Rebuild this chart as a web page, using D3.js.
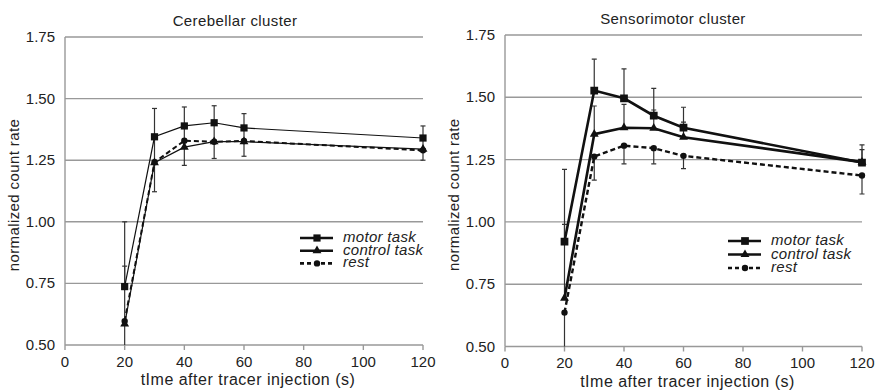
<!DOCTYPE html>
<meta charset="utf-8">
<style>
body { margin: 0; background: #fff; }
text { font-family: "Liberation Sans", Arial, sans-serif; fill: #222; }
.grid line { stroke: #999; stroke-width: 1.4px; }
.err { stroke: #333; stroke-width: 1.2px; }
</style>
<body>
<div id="chart"></div>
<script src="https://d3js.org/d3.v7.min.js"></script>
<script>
var times = [20, 30, 40, 50, 60, 120];
var yTicks = [0.5, 0.75, 1.0, 1.25, 1.5, 1.75];
var xTicks = [0, 20, 40, 60, 80, 100, 120];
var seriesNames = ["motor task", "control task", "rest"];

// cerebellar cluster
var cbMotor = [0.737, 1.345, 1.389, 1.402, 1.381, 1.340];
var cbControl = [0.585, 1.240, 1.303, 1.325, 1.325, 1.295];
var cbRest = [0.597, 1.242, 1.329, 1.325, 1.328, 1.290];
var cbMotorErr = [0.263, 0.115, 0.077, 0.069, 0.058, 0.049];   // drawn upwards
var cbControlErr = [0.235, 0.11, 0.09, 0.07, 0.06, 0.05];      // drawn upwards
var cbRestErr = [0.2, 0.12, 0.10, 0.068, 0.062, 0.04];         // drawn downwards

// sensorimotor cluster
var smMotor = [0.921, 1.527, 1.496, 1.426, 1.378, 1.238];
var smControl = [0.694, 1.352, 1.378, 1.376, 1.340, 1.240];
var smRest = [0.636, 1.262, 1.306, 1.296, 1.265, 1.186];
var smMotorErr = [0.29, 0.126, 0.118, 0.11, 0.082, 0.071];
var smControlErr = [0.296, 0.113, 0.094, 0.073, 0.06, 0.05];
var smRestErr = [0.2, 0.094, 0.073, 0.063, 0.051, 0.074];

var svg = d3.select("#chart").append("svg")
    .attr("width", 880)
    .attr("height", 391);

function drawPanel(id, opts) {
  var x = d3.scaleLinear().domain([0, 120]).range([opts.left, opts.right]);
  var y = d3.scaleLinear().domain([0.5, 1.75]).range([opts.bottom, opts.top]);
  var g = svg.append("g");

  g.append("clipPath").attr("id", id)
    .append("rect")
      .attr("x", opts.left - 10).attr("y", opts.top - 10)
      .attr("width", opts.right - opts.left + 20)
      .attr("height", opts.bottom - opts.top + 10);

  // horizontal grid
  g.append("g").attr("class", "grid")
    .selectAll("line").data(yTicks).enter().append("line")
      .attr("x1", opts.left).attr("x2", opts.right)
      .attr("y1", function(d) { return y(d); })
      .attr("y2", function(d) { return y(d); });

  // left axis line
  g.append("line")
      .attr("x1", opts.left).attr("x2", opts.left)
      .attr("y1", opts.top).attr("y2", opts.bottom)
      .style("stroke", "#999").style("stroke-width", 1.4);

  g.selectAll(".ytl").data(yTicks).enter().append("text")
      .attr("x", opts.left - 10)
      .attr("y", function(d) { return y(d) + 5; })
      .attr("text-anchor", "end")
      .style("font-size", "15px")
      .text(function(d) { return d3.format(".2f")(d); });

  // bottom ticks
  g.selectAll(".xt").data(xTicks).enter().append("line")
      .attr("x1", function(d) { return x(d); })
      .attr("x2", function(d) { return x(d); })
      .attr("y1", opts.bottom).attr("y2", opts.bottom + 5)
      .style("stroke", "#999").style("stroke-width", 1.4);

  g.selectAll(".xtl").data(xTicks).enter().append("text")
      .attr("x", function(d) { return x(d); })
      .attr("y", opts.bottom + 21.5)
      .attr("text-anchor", "middle")
      .style("font-size", "15px")
      .text(function(d) { return d; });

  g.append("text")
      .attr("x", (opts.left + opts.right) / 2 + 4)
      .attr("y", opts.bottom + 40)
      .attr("text-anchor", "middle")
      .style("font-size", "16px")
      .style("letter-spacing", "0.5px")
      .text("tIme after tracer injection (s)");

  g.append("text")
      .attr("transform", "translate(" + (opts.left - 46) + "," + ((opts.top + opts.bottom) / 2 + 4) + ") rotate(-90)")
      .attr("text-anchor", "middle")
      .style("font-size", "15px")
      .style("letter-spacing", "0.4px")
      .text("normalized count rate");

  g.append("text")
      .attr("x", opts.titleX)
      .attr("y", opts.titleY)
      .attr("text-anchor", "middle")
      .style("font-size", "15px")
      .style("letter-spacing", "0.4px")
      .text(opts.title);

  var plot = g.append("g").attr("clip-path", "url(#" + id + ")");

  var series = [
    {vals: opts.motor, err: opts.motorErr, dir: 1, shape: d3.symbolSquare, size: opts.sq, dash: null},
    {vals: opts.control, err: opts.controlErr, dir: 1, shape: d3.symbolTriangle, size: 34, dash: null},
    {vals: opts.rest, err: opts.restErr, dir: -1, shape: d3.symbolCircle, size: 32, dash: "5,3"}
  ];

  // error bars
  series.forEach(function(s) {
    var eb = plot.append("g").attr("class", "err");
    times.forEach(function(t, i) {
      var v0 = s.vals[i], v1 = s.vals[i] + s.dir * s.err[i];
      eb.append("line")
          .attr("x1", x(t)).attr("x2", x(t))
          .attr("y1", y(v0)).attr("y2", y(v1));
      eb.append("line")
          .attr("x1", x(t) - 2.5).attr("x2", x(t) + 2.5)
          .attr("y1", y(v1)).attr("y2", y(v1));
    });
  });

  var line = d3.line()
      .x(function(d, i) { return x(times[i]); })
      .y(function(d) { return y(d); });

  series.slice().reverse().forEach(function(s) {
    plot.append("path")
        .datum(s.vals)
        .attr("d", line)
        .style("fill", "none")
        .style("stroke", "#111")
        .style("stroke-width", s.dash ? opts.restWidth : opts.lineWidth)
        .style("stroke-dasharray", s.dash);
    plot.selectAll(null).data(s.vals).enter().append("path")
        .attr("d", d3.symbol().type(s.shape).size(s.size))
        .attr("transform", function(d, i) { return "translate(" + x(times[i]) + "," + y(d) + ")"; })
        .style("fill", "#111");
  });

  // legend
  var lg = g.append("g");
  series.forEach(function(s, i) {
    var ly = opts.legY + i * opts.legStep;
    lg.append("line")
        .attr("x1", opts.legX).attr("x2", opts.legX + 33)
        .attr("y1", ly).attr("y2", ly)
        .style("stroke", "#111").style("stroke-width", 2.6)
        .style("stroke-dasharray", s.dash ? "4,3" : null);
    lg.append("path")
        .attr("d", d3.symbol().type(s.shape).size(s.size))
        .attr("transform", "translate(" + (opts.legX + 17) + "," + ly + ")")
        .style("fill", "#111");
    lg.append("text")
        .attr("x", opts.legX + 43)
        .attr("y", ly + 4)
        .style("font-size", "15px")
        .style("font-style", "italic")
        .style("letter-spacing", "0.3px")
        .text(seriesNames[i]);
  });
}

drawPanel("clipA", {
  left: 65, right: 423, top: 37, bottom: 345,
  title: "Cerebellar cluster", titleX: 235, titleY: 26,
  motor: cbMotor, control: cbControl, rest: cbRest,
  motorErr: cbMotorErr, controlErr: cbControlErr, restErr: cbRestErr,
  lineWidth: 1.2, restWidth: 2, sq: 52,
  legX: 300, legY: 238, legStep: 12.7
});

drawPanel("clipB", {
  left: 505, right: 862, top: 35, bottom: 346.5,
  title: "Sensorimotor cluster", titleX: 673, titleY: 24,
  motor: smMotor, control: smControl, rest: smRest,
  motorErr: smMotorErr, controlErr: smControlErr, restErr: smRestErr,
  lineWidth: 2.6, restWidth: 2.4, sq: 60,
  legX: 728, legY: 241, legStep: 13.5
});
</script>
</body>
